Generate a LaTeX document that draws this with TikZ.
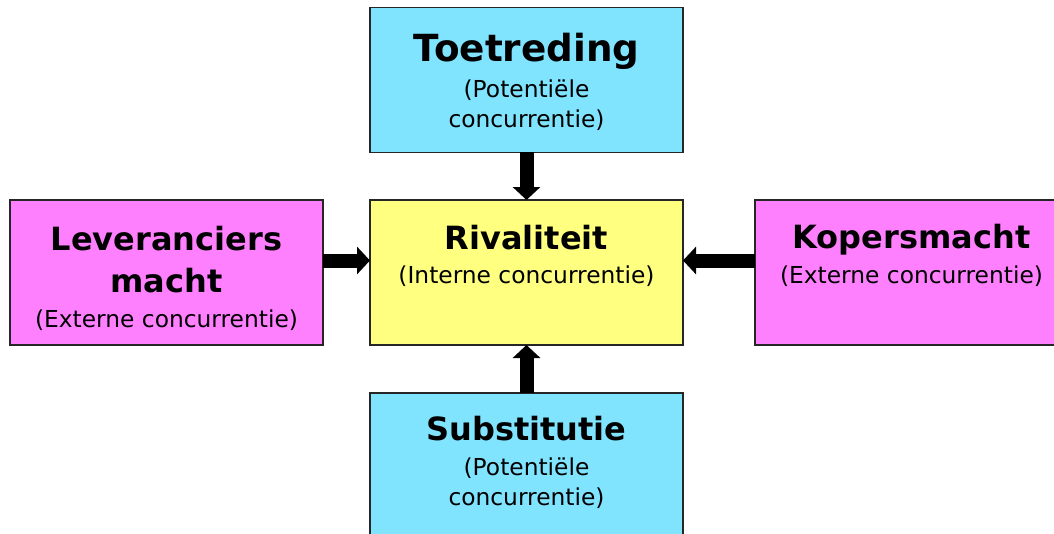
\documentclass[tikz,border=0pt]{standalone}
\usepackage{fontspec}
\setmainfont{DejaVu Sans}
\usetikzlibrary{positioning,arrows.meta}
\definecolor{kracht cyan}{RGB}{128,228,255}
\definecolor{kracht geel}{RGB}{255,255,128}
\definecolor{kracht roze}{RGB}{255,128,255}
\tikzstyle{krachtbox}=[draw=black!85, line width=1.4pt, inner sep=0pt, outer sep=0pt, minimum width=234.75pt, minimum height=108.75pt]
\tikzstyle{titel}=[anchor=base, inner sep=0pt, align=center, font=\bfseries\fontsize{24pt}{31.5pt}\selectfont]
\tikzstyle{uitleg}=[anchor=base, inner sep=0pt, align=center, font=\fontsize{17.5pt}{22.5pt}\selectfont]
\tikzstyle{pijl}=[line width=10.5pt, -{Triangle[length=9.75pt, width=20.25pt]}]

\begin{document}
\begin{tikzpicture}[x=0.75pt, y=-0.75pt]
\useasboundingbox (0,0) rectangle (1054,533);
  \node[krachtbox, fill=kracht geel] at (526.5,272.5) (rivaliteit) {};
  \node[krachtbox, fill=kracht cyan, above of = rivaliteit, node distance = 144.4pt] (toetreding) {};
  \node[krachtbox, fill=kracht cyan, below of = rivaliteit, node distance = 144.75pt] (substitutie) {};
  \node[krachtbox, fill=kracht roze, left of = rivaliteit, node distance = 270pt] (leveranciers) {};
  \node[krachtbox, fill=kracht roze, right of = rivaliteit, node distance = 288.75pt] (kopers) {};

\draw[pijl] (toetreding.south) -- (rivaliteit.north);
\draw[pijl] (substitutie.north) -- (rivaliteit.south);
\draw[pijl] ([yshift=9pt]leveranciers.east) -- ([yshift=9pt]rivaliteit.west);
\draw[pijl] ([yshift=9pt]kopers.west) -- ([yshift=9pt]rivaliteit.east);

  % base of a node with two lines = last line
  \node[titel, font=\bfseries\fontsize{28pt}{34pt}\selectfont] at ([yshift=-40.5pt]toetreding.north) (toetredingT) {Toetreding};
  \node[uitleg] at ([yshift=-90pt]toetreding.north) (toetredingU) {(Potentiële\\concurrentie)};

  \node[titel] at ([yshift=-36.75pt]rivaliteit.north) (rivaliteitT) {Rivaliteit};
  \node[uitleg] at ([yshift=-62.25pt]rivaliteit.north) (rivaliteitU) {(Interne concurrentie)};

  \node[titel] at ([yshift=-69pt]leveranciers.north) (leveranciersT) {Leveranciers\\macht};
  \node[uitleg] at ([yshift=-95.25pt]leveranciers.north) (leveranciersU) {(Externe concurrentie)};

  \node[titel] at ([yshift=-36pt]kopers.north) (kopersT) {Kopersmacht};
  \node[uitleg] at ([yshift=-62.25pt]kopers.north) (kopersU) {(Externe concurrentie)};

  \node[titel] at ([yshift=-35.25pt]substitutie.north) (substitutieT) {Substitutie};
  \node[uitleg] at ([yshift=-84pt]substitutie.north) (substitutieU) {(Potentiële\\concurrentie)};
\end{tikzpicture}
\end{document}
